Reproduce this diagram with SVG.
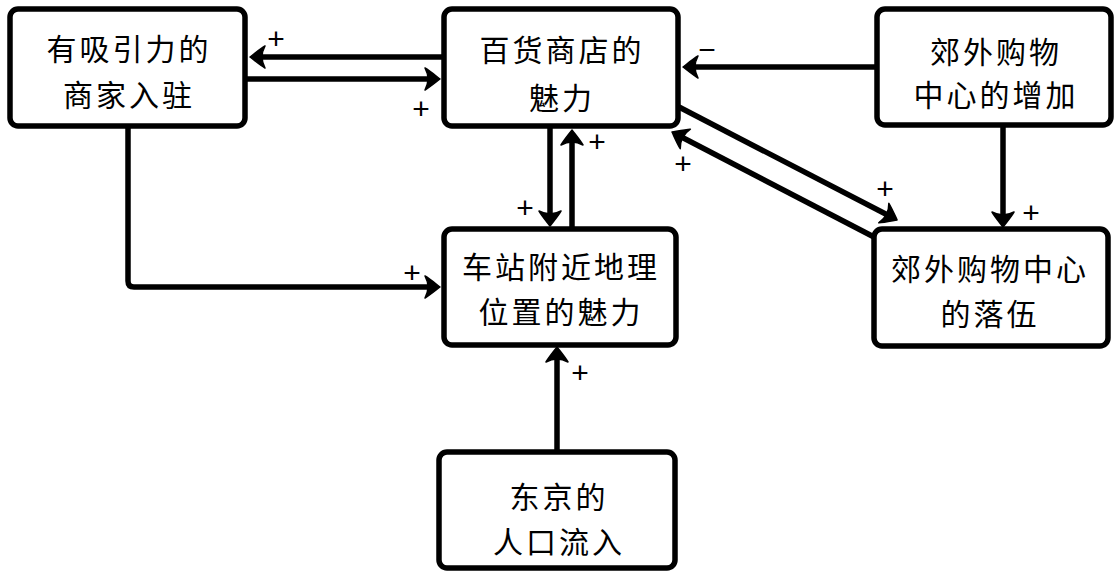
<svg xmlns="http://www.w3.org/2000/svg" width="1120" height="576" viewBox="0 0 1120 576">
<style>
.box{fill:#fff;stroke:#000;stroke-width:5.5;}
.t{font-family:"Noto Sans CJK SC","Noto Sans",sans-serif;font-size:30px;letter-spacing:3px;fill:#000;text-anchor:middle;dominant-baseline:central;}
.c{fill:none;stroke:#000;stroke-width:5.5;marker-end:url(#ah);}
.s{font-family:"Liberation Sans",sans-serif;font-size:30px;fill:#000;text-anchor:middle;dominant-baseline:central;}
</style>
<defs>
<marker id="ah" markerUnits="userSpaceOnUse" markerWidth="24" markerHeight="28" viewBox="-18 -14 24 28" refX="-8" refY="0" orient="auto" overflow="visible">
<path d="M0,0 C-4,-3 -10,-8 -15,-11 Q-9,0 -15,11 C-10,8 -4,3 0,0 Z" fill="#000" stroke="#000" stroke-width="1.5" stroke-linejoin="round"/>
</marker>
</defs>
<g id="connectors">
<line class="c" x1="444" y1="57" x2="258" y2="57"/>
<line class="c" x1="245" y1="79" x2="432" y2="79"/>
<line class="c" x1="877" y1="67" x2="691" y2="67"/>
<line class="c" x1="550" y1="126" x2="550" y2="218"/>
<line class="c" x1="572" y1="229" x2="572" y2="138"/>
<path class="c" d="M128,126 V281 Q128,287 134,287 H432"/>
<line class="c" x1="679" y1="107" x2="890" y2="216.3"/>
<line class="c" x1="874" y1="237" x2="679.1" y2="135.7"/>
<line class="c" x1="1003" y1="125" x2="1003" y2="219"/>
<line class="c" x1="557" y1="452" x2="557" y2="355"/>
</g>
<g id="labels">
<text class="s" x="276" y="38">+</text>
<text class="s" x="421" y="108">+</text>
<text class="s" x="707" y="49">−</text>
<text class="s" x="597" y="141">+</text>
<text class="s" x="525" y="207">+</text>
<text class="s" x="683" y="163">+</text>
<text class="s" x="885" y="188">+</text>
<text class="s" x="1031" y="212">+</text>
<text class="s" x="412" y="272">+</text>
<text class="s" x="580" y="372">+</text>
</g>
<g id="n1"><rect class="box" x="10" y="9" width="235" height="117" rx="8"/><text class="t" x="129" y="47">有吸引力的</text><text class="t" x="129" y="93">商家入驻</text></g>
<g id="n2"><rect class="box" x="444" y="9" width="234" height="117" rx="8"/><text class="t" x="562" y="48">百货商店的</text><text class="t" x="562" y="96">魅力</text></g>
<g id="n3"><rect class="box" x="877" y="9" width="234" height="116" rx="8"/><text class="t" x="996" y="50">郊外购物</text><text class="t" x="996" y="93">中心的增加</text></g>
<g id="n4"><rect class="box" x="874" y="229" width="234" height="117" rx="8"/><text class="t" x="990" y="267">郊外购物中心</text><text class="t" x="990" y="312">的落伍</text></g>
<g id="n5"><rect class="box" x="444" y="229" width="232" height="116" rx="8"/><text class="t" x="561" y="265">车站附近地理</text><text class="t" x="561" y="310">位置的魅力</text></g>
<g id="n6"><rect class="box" x="439" y="452" width="236" height="116" rx="8"/><text class="t" x="559" y="495">东京的</text><text class="t" x="559" y="540">人口流入</text></g>
</svg>
